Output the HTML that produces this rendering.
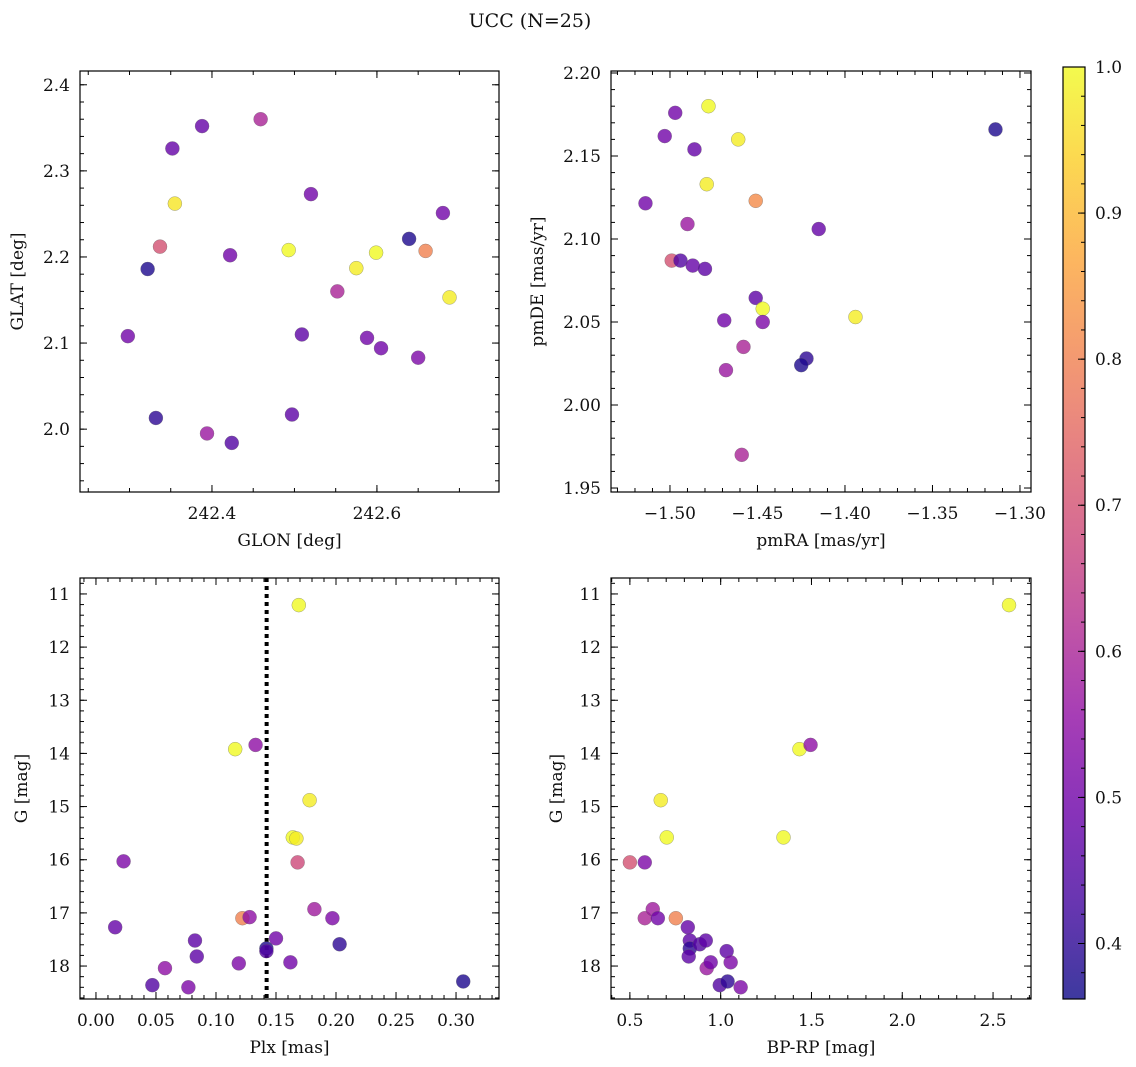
<!DOCTYPE html>
<html><head><meta charset="utf-8"><style>
html,body{margin:0;padding:0;background:#fff;}
svg{display:block;font-family:"DejaVu Serif","Liberation Serif",serif;}
</style></head><body>
<svg id="fig" width="1136" height="1067" viewBox="0 0 1136 1067" xmlns="http://www.w3.org/2000/svg">
<text x="530" y="27" font-size="19" text-anchor="middle" fill="#111">UCC (N=25)</text>
</svg>
<script>
// Panel 1: GLON vs GLAT
const glon = [242.298,242.322,242.332,242.337,242.352,242.355,242.388,242.394,242.422,242.424,242.459,242.493,242.497,242.509,242.520,242.552,242.575,242.588,242.599,242.605,242.639,242.650,242.659,242.680,242.688];
const glat = [2.108,2.186,2.013,2.212,2.326,2.262,2.352,1.995,2.202,1.984,2.360,2.208,2.017,2.110,2.273,2.160,2.187,2.106,2.205,2.094,2.221,2.083,2.207,2.251,2.153];
const prob1 = [0.50,0.38,0.40,0.70,0.48,0.97,0.48,0.57,0.50,0.45,0.60,1.00,0.47,0.47,0.50,0.60,0.98,0.50,1.00,0.50,0.38,0.52,0.80,0.50,0.98];
// Panel 2: pmRA vs pmDE
const pmra = [-1.514,-1.503,-1.497,-1.486,-1.478,-1.479,-1.490,-1.499,-1.494,-1.487,-1.480,-1.461,-1.451,-1.451,-1.447,-1.447,-1.469,-1.458,-1.468,-1.459,-1.422,-1.425,-1.415,-1.394,-1.314];
const pmde = [2.1215,2.162,2.176,2.154,2.180,2.133,2.109,2.087,2.087,2.084,2.082,2.160,2.123,2.0645,2.058,2.050,2.051,2.035,2.021,1.970,2.028,2.024,2.106,2.053,2.166];
const prob2 = [0.50,0.50,0.50,0.48,1.00,0.98,0.57,0.70,0.45,0.48,0.47,0.98,0.82,0.47,1.00,0.52,0.50,0.60,0.57,0.60,0.40,0.38,0.48,0.98,0.38];
// Panel 3: Plx vs G
const plx = [0.016,0.023,0.047,0.0575,0.077,0.0825,0.084,0.116,0.119,0.122,0.128,0.133,0.142,0.142,0.150,0.162,0.164,0.167,0.168,0.169,0.178,0.182,0.197,0.203,0.306];
const gmag3 = [17.27,16.03,18.36,18.04,18.40,17.52,17.82,13.92,17.95,17.10,17.08,13.84,17.67,17.72,17.48,17.93,15.58,15.60,16.05,11.21,14.88,16.93,17.10,17.59,18.29];
const prob3 = [0.48,0.52,0.45,0.55,0.52,0.47,0.47,1.00,0.52,0.80,0.55,0.55,0.38,0.45,0.50,0.50,1.00,0.98,0.68,1.00,0.98,0.58,0.52,0.40,0.38];
const plxLine = [0.1422];
// Panel 4: BP-RP vs G
const bprp = [0.500,0.582,0.582,0.626,0.654,0.670,0.703,0.753,0.819,0.830,0.830,0.824,0.885,0.918,0.923,0.945,0.995,1.033,1.038,1.055,1.110,1.346,1.434,1.495,2.588];
const gmag4 = [16.05,16.05,17.10,16.93,17.10,14.88,15.58,17.10,17.27,17.52,17.67,17.82,17.59,17.52,18.04,17.93,18.36,17.72,18.29,17.93,18.40,15.58,13.92,13.84,11.21];
const prob4 = [0.70,0.52,0.60,0.58,0.50,0.98,1.00,0.80,0.48,0.47,0.40,0.47,0.45,0.47,0.57,0.50,0.45,0.47,0.40,0.52,0.52,1.00,1.00,0.55,1.00];
// Colorbar
const cbTicks = [0.4,0.5,0.6,0.7,0.8,0.9,1.0];
const xt1 = [242.4,242.6], yt1 = [2.0,2.1,2.2,2.3,2.4];
const xt2 = [-1.50,-1.45,-1.40,-1.35,-1.30], yt2 = [1.95,2.00,2.05,2.10,2.15,2.20];
const xt3 = [0.00,0.05,0.10,0.15,0.20,0.25,0.30], yt3 = [11,12,13,14,15,16,17,18];
const xt4 = [0.5,1.0,1.5,2.0,2.5], yt4 = [11,12,13,14,15,16,17,18];

const NS = "http://www.w3.org/2000/svg";
const svg = document.getElementById('fig');
function mk(tag, attrs, parent){const e=document.createElementNS(NS,tag);for(const k in attrs)e.setAttribute(k,attrs[k]);(parent||svg).appendChild(e);return e;}
const plasma=[[13,8,135],[65,4,157],[106,0,168],[143,13,164],[177,42,144],[204,71,120],[225,100,98],[242,132,75],[252,166,54],[252,206,37],[240,249,33]];
const VMIN=0.362,VMAX=1.0;
function cmap(v){let t=(v-VMIN)/(VMAX-VMIN);t=Math.max(0,Math.min(1,t));const f=t*10,i=Math.min(9,Math.floor(f)),r=f-i;const a=plasma[i],b=plasma[i+1];
 const c=[0,1,2].map(k=>Math.round(a[k]+(b[k]-a[k])*r));return `rgb(${c[0]},${c[1]},${c[2]})`;}
function fmtNum(v,d){const s=Math.abs(v).toFixed(d);return (v<0?'\u2212':'')+s;}
const TF=17, LF=17;

function panel(o){
 const g=mk('g',{});  
 const sx=v=>o.x0+(v-o.xmin)/(o.xmax-o.xmin)*(o.x1-o.x0);
 const sy=o.invert? v=>o.y0+(v-o.ymin)/(o.ymax-o.ymin)*(o.y1-o.y0) : v=>o.y1-(v-o.ymin)/(o.ymax-o.ymin)*(o.y1-o.y0);
 const tg=mk('g',{stroke:'#000','stroke-width':1},g);
  
 const lo=Math.ceil(o.xmin/o.xminor-1e-6),hi=Math.floor(o.xmax/o.xminor+1e-6);
 for(let i=lo;i<=hi;i++){const X=sx(i*o.xminor);mk('line',{x1:X,x2:X,y1:o.y1,y2:o.y1-4},tg);mk('line',{x1:X,x2:X,y1:o.y0,y2:o.y0+4},tg);}
 const lo2=Math.ceil(Math.min(o.ymin,o.ymax)/o.yminor-1e-6),hi2=Math.floor(Math.max(o.ymin,o.ymax)/o.yminor+1e-6);
 for(let i=lo2;i<=hi2;i++){const Y=sy(i*o.yminor);mk('line',{x1:o.x0,x2:o.x0+4,y1:Y,y2:Y},tg);mk('line',{x1:o.x1,x2:o.x1-4,y1:Y,y2:Y},tg);}
 o.xt.forEach(v=>{const X=sx(v);mk('line',{x1:X,x2:X,y1:o.y1,y2:o.y1-7},tg);mk('line',{x1:X,x2:X,y1:o.y0,y2:o.y0+7},tg);
  const t=mk('text',{x:X,y:o.y1+27,'font-size':TF,'text-anchor':'middle',fill:'#111'},g);t.textContent=fmtNum(v,o.xd);
   });
 o.yt.forEach(v=>{const Y=sy(v);mk('line',{x1:o.x0,x2:o.x0+7,y1:Y,y2:Y},tg);mk('line',{x1:o.x1,x2:o.x1-7,y1:Y,y2:Y},tg);
  const t=mk('text',{x:o.x0-10,y:Y+6,'font-size':TF,'text-anchor':'end',fill:'#111'},g);t.textContent=fmtNum(v,o.yd);
   });
 if(o.vline){o.vline.forEach(v=>{const l=mk('line',{x1:sx(v),x2:sx(v),y1:o.y0,y2:o.y1,stroke:'#000','stroke-width':4,'stroke-dasharray':'4,4'},g);
   });}
 const pg=mk('g',{},g);  
 o.xs.forEach((v,i)=>{const c=mk('circle',{cx:sx(v),cy:sy(o.ys[i]),r:7,fill:cmap(o.cs[i]),'fill-opacity':0.8,stroke:'#666','stroke-opacity':0.6,'stroke-width':0.5},pg);
   });
 const fr=mk('rect',{x:o.x0,y:o.y0,width:o.x1-o.x0,height:o.y1-o.y0,fill:'none',stroke:'#000','stroke-width':1.2},g);
  
 const xl=mk('text',{x:(o.x0+o.x1)/2,y:o.y1+54,'font-size':LF,'text-anchor':'middle',fill:'#111'},g);xl.textContent=o.xlabel;
  
 const cy=(o.y0+o.y1)/2;
 const yl=mk('text',{x:o.ylx,y:cy,'font-size':LF,'text-anchor':'middle',fill:'#111',transform:`rotate(-90 ${o.ylx} ${cy})`},g);yl.textContent=o.ylabel;
  
}

panel({name:'glon-glat-panel',x0:80,x1:499,y0:71,y1:492,xmin:242.24,xmax:242.748,ymin:1.927,ymax:2.416,xminor:0.05,yminor:0.02,xt:xt1,yt:yt1,xd:1,yd:1,xs:glon,ys:glat,cs:prob1,xlabel:'GLON [deg]',ylabel:'GLAT [deg]',ylx:23});
panel({name:'pm-panel',x0:611,x1:1031,y0:71,y1:492,xmin:-1.5337,xmax:-1.2937,ymin:1.9476,ymax:2.2012,xminor:0.01,yminor:0.01,xt:xt2,yt:yt2,xd:2,yd:2,xs:pmra,ys:pmde,cs:prob2,xlabel:'pmRA [mas/yr]',ylabel:'pmDE [mas/yr]',ylx:543});
panel({name:'plx-g-panel',x0:80,x1:499,y0:578,y1:999,xmin:-0.0133,xmax:0.3358,ymin:10.70,ymax:18.62,invert:true,xminor:0.01,yminor:0.2,xt:xt3,yt:yt3,xd:2,yd:0,xs:plx,ys:gmag3,cs:prob3,vline:plxLine,xlabel:'Plx [mas]',ylabel:'G [mag]',ylx:27});
panel({name:'cmd-panel',x0:611,x1:1031,y0:578,y1:999,xmin:0.396,xmax:2.709,ymin:10.70,ymax:18.62,invert:true,xminor:0.1,yminor:0.2,xt:xt4,yt:yt4,xd:1,yd:0,xs:bprp,ys:gmag4,cs:prob4,xlabel:'BP-RP [mag]',ylabel:'G [mag]',ylx:562});

const cb=mk('g',{});  
const defs=mk('defs',{},cb); const lg=mk('linearGradient',{id:'cbg',x1:0,y1:1,x2:0,y2:0},defs);
for(let i=0;i<=20;i++){const v=VMIN+(VMAX-VMIN)*i/20;mk('stop',{offset:(i/20),'stop-color':cmap(v),'stop-opacity':0.8},lg);}
const CY0=67,CY1=999,CX0=1063,CX1=1085;
const cby=v=>CY1-(v-VMIN)/(VMAX-VMIN)*(CY1-CY0);
mk('rect',{x:CX0,y:CY0,width:CX1-CX0,height:CY1-CY0,fill:'url(#cbg)',stroke:'#000','stroke-width':1.2},cb);
for(let v=0.38;v<=1.0001;v+=0.02){const Y=cby(v);mk('line',{x1:CX1,x2:CX1-4,y1:Y,y2:Y,stroke:'#000'},cb);}
cbTicks.forEach(v=>{const Y=cby(v);mk('line',{x1:CX1,x2:CX1-7,y1:Y,y2:Y,stroke:'#000'},cb);
 const t=mk('text',{x:1095,y:Y+6,'font-size':TF,fill:'#111'},cb);t.textContent=v.toFixed(1);
  });
</script>
</body></html>
